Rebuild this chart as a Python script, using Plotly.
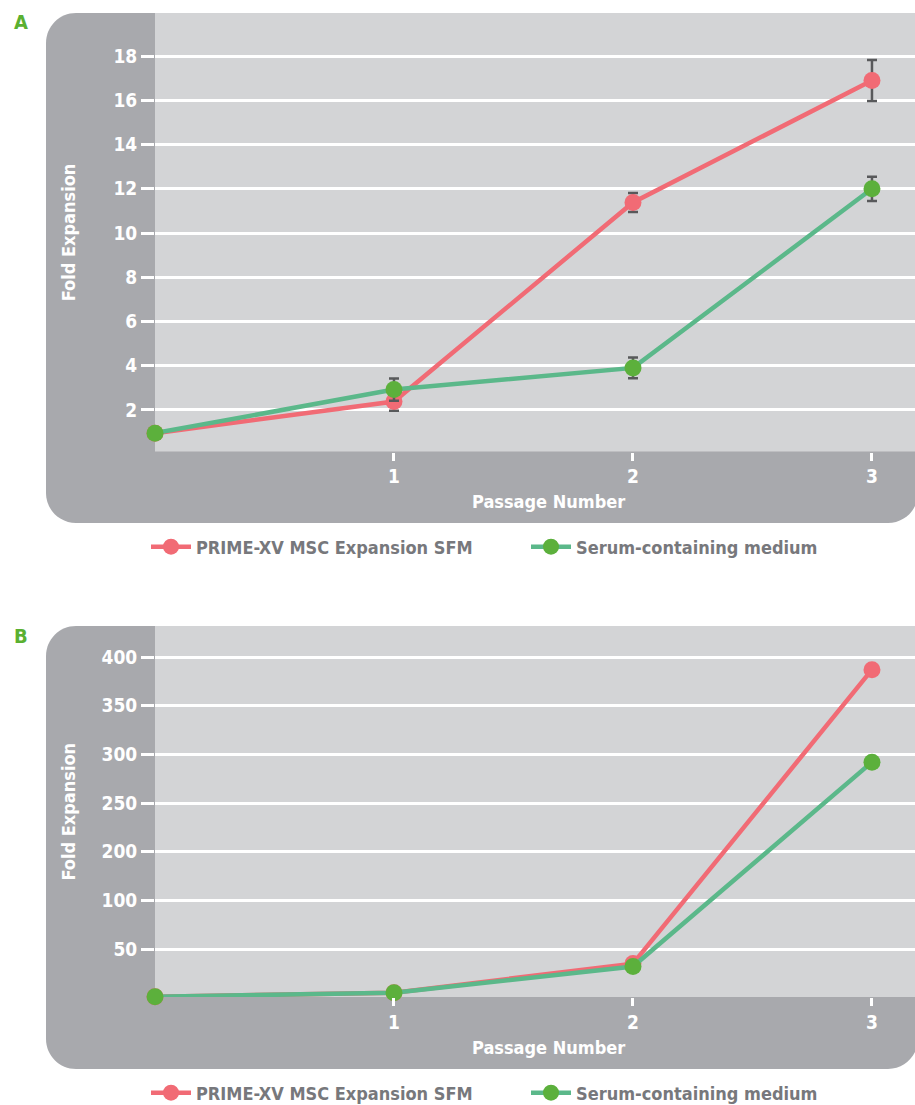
import numpy as np
import plotly.graph_objects as go

# ---------------- data ----------------
passages = [0, 1, 2, 3]
passage_ticks = [1, 2, 3]

# Panel A: fold expansion with standard deviation
prime_a = [0.95, 2.38, 11.38, 16.9]
prime_a_err = [0.0, 0.42, 0.43, 0.93]
serum_a = [0.95, 2.92, 3.9, 12.0]
serum_a_err = [0.0, 0.5, 0.47, 0.55]
ticks_a = [2, 4, 6, 8, 10, 12, 14, 16, 18]

# Panel B: cumulative fold expansion
prime_b = [1, 5, 35, 387]
serum_b = [1, 5, 32, 292]
ticks_b = [50, 100, 200, 250, 300, 350, 400]

names = ["PRIME-XV MSC Expansion SFM", "Serum-containing medium"]

# ---------------- styling ----------------
W, H = 915, 1105
FONT = "DejaVu Sans Condensed, Liberation Sans Narrow, DejaVu Sans"
RED = "#f16b75"
GREEN_LINE = "#5bb88a"
GREEN_MARK = "#5cb03c"
DARK = "#a8a9ad"
LIGHT = "#d3d4d6"
ERR = "#58595b"
LEGEND_GREY = "#77787c"
LETTER_GREEN = "#5ab031"


def px(x):
    return x / W


def py(y):
    return 1 - y / H


def font(size, color):
    return dict(family=FONT, size=size, color=color, weight="bold")


def rounded_box(x0, y0, x1, y1, r):
    """Rounded rectangle path in paper coordinates from pixel bounds."""
    k = 0.4477  # bezier offset for a quarter circle
    pts = [
        f"M {px(x0 + r)} {py(y0)}",
        f"L {px(x1 - r)} {py(y0)}",
        f"C {px(x1 - r * k)} {py(y0)} {px(x1)} {py(y0 + r * k)} {px(x1)} {py(y0 + r)}",
        f"L {px(x1)} {py(y1 - r)}",
        f"C {px(x1)} {py(y1 - r * k)} {px(x1 - r * k)} {py(y1)} {px(x1 - r)} {py(y1)}",
        f"L {px(x0 + r)} {py(y1)}",
        f"C {px(x0 + r * k)} {py(y1)} {px(x0)} {py(y1 - r * k)} {px(x0)} {py(y1 - r)}",
        f"L {px(x0)} {py(y0 + r)}",
        f"C {px(x0)} {py(y0 + r * k)} {px(x0 + r * k)} {py(y0)} {px(x0 + r)} {py(y0)}",
        "Z",
    ]
    return " ".join(pts)


# Panel B's value axis is labelled 50, 100, 200, 250 ... at even spacing,
# so values are placed through the same piecewise scale.
b_positions = [50 * (i + 1) for i in range(len(ticks_b))]


def to_axis_b(values):
    return list(np.interp(values, [0] + ticks_b, [0] + b_positions))


fig = go.Figure()

line_w = 4.5
mark_size = 17

# Panel A traces
fig.add_trace(go.Scatter(
    x=passages, y=prime_a, name=names[0], mode="lines+markers",
    line=dict(color=RED, width=line_w),
    marker=dict(color=RED, size=mark_size),
    error_y=dict(type="data", array=prime_a_err, color=ERR, thickness=2.5, width=5),
    xaxis="x", yaxis="y", legend="legend", cliponaxis=False,
))
fig.add_trace(go.Scatter(
    x=passages, y=serum_a, name=names[1], mode="lines+markers",
    line=dict(color=GREEN_LINE, width=line_w),
    marker=dict(color=GREEN_MARK, size=mark_size),
    error_y=dict(type="data", array=serum_a_err, color=ERR, thickness=2.5, width=5),
    xaxis="x", yaxis="y", legend="legend", cliponaxis=False,
))

# Panel B traces
fig.add_trace(go.Scatter(
    x=passages, y=to_axis_b(prime_b), name=names[0], mode="lines+markers",
    line=dict(color=RED, width=line_w),
    marker=dict(color=RED, size=mark_size),
    xaxis="x2", yaxis="y2", legend="legend2", cliponaxis=False,
))
fig.add_trace(go.Scatter(
    x=passages, y=to_axis_b(serum_b), name=names[1], mode="lines+markers",
    line=dict(color=GREEN_LINE, width=line_w),
    marker=dict(color=GREEN_MARK, size=mark_size),
    xaxis="x2", yaxis="y2", legend="legend2", cliponaxis=False,
))

tick_font = font(19, "white")

x_common = dict(
    range=[0, 3.18], tickvals=passage_ticks, ticks="outside", ticklen=8,
    tickwidth=2.5, tickcolor="white", showgrid=False, zeroline=False,
    showline=False, tickfont=tick_font, ticklabelstandoff=0, fixedrange=True,
)
y_common = dict(
    ticks="outside", ticklen=13, tickwidth=2.5, tickcolor="white",
    showgrid=True, gridcolor="white", gridwidth=2.5, zeroline=False,
    showline=False, tickfont=tick_font, ticklabelstandoff=0, fixedrange=True,
)

# plot area pixel bounds
A_TOP, A_BOT = 13, 451.5
B_TOP, B_BOT = 626, 997
PLOT_L = 155

legend_common = dict(orientation="h", x=px(146), xanchor="left", yanchor="middle",
                     font=font(18, LEGEND_GREY), itemwidth=40,
                     bgcolor="rgba(0,0,0,0)", entrywidth=325)

fig.update_layout(
    width=W, height=H,
    margin=dict(l=0, r=0, t=0, b=0, autoexpand=False),
    paper_bgcolor="white", plot_bgcolor="rgba(0,0,0,0)",
    xaxis=dict(domain=[px(PLOT_L), 1], anchor="y", **x_common),
    yaxis=dict(domain=[py(A_BOT), py(A_TOP)], anchor="x", range=[0.12, 19.95],
               tickvals=ticks_a, **y_common),
    xaxis2=dict(domain=[px(PLOT_L), 1], anchor="y2", **x_common),
    yaxis2=dict(domain=[py(B_BOT), py(B_TOP)], anchor="x2", range=[0.7, 381.9],
                tickvals=b_positions, ticktext=[str(t) for t in ticks_b], **y_common),
    showlegend=True,
    legend=dict(y=py(547), **legend_common),
    legend2=dict(y=py(1093), **legend_common),
    shapes=[
        dict(type="path", xref="paper", yref="paper", layer="below",
             path=rounded_box(46, A_TOP, 918, 523, 30), fillcolor=DARK, line=dict(width=0)),
        dict(type="rect", xref="paper", yref="paper", layer="below",
             x0=px(PLOT_L), x1=1.01, y0=py(A_BOT), y1=py(A_TOP),
             fillcolor=LIGHT, line=dict(width=0)),
        dict(type="path", xref="paper", yref="paper", layer="below",
             path=rounded_box(46, B_TOP, 918, 1069, 30), fillcolor=DARK, line=dict(width=0)),
        dict(type="rect", xref="paper", yref="paper", layer="below",
             x0=px(PLOT_L), x1=1.01, y0=py(B_BOT), y1=py(B_TOP),
             fillcolor=LIGHT, line=dict(width=0)),
    ],
)

title_font = font(18, "white")
letter_font = font(20, LETTER_GREEN)

annotations = [
    dict(text="A", x=px(21), y=py(22), font=letter_font),
    dict(text="B", x=px(21), y=py(636), font=letter_font),
    dict(text="Passage Number", x=px(548), y=py(502), font=title_font),
    dict(text="Passage Number", x=px(548), y=py(1047), font=title_font),
    dict(text="Fold Expansion", x=px(68), y=py((A_TOP + A_BOT) / 2), textangle=-90, font=title_font),
    dict(text="Fold Expansion", x=px(68), y=py((B_TOP + B_BOT) / 2), textangle=-90, font=title_font),
]
for a in annotations:
    a.update(xref="paper", yref="paper", showarrow=False, xanchor="center", yanchor="middle")
fig.update_layout(annotations=annotations)

fig.write_html("out.html")
